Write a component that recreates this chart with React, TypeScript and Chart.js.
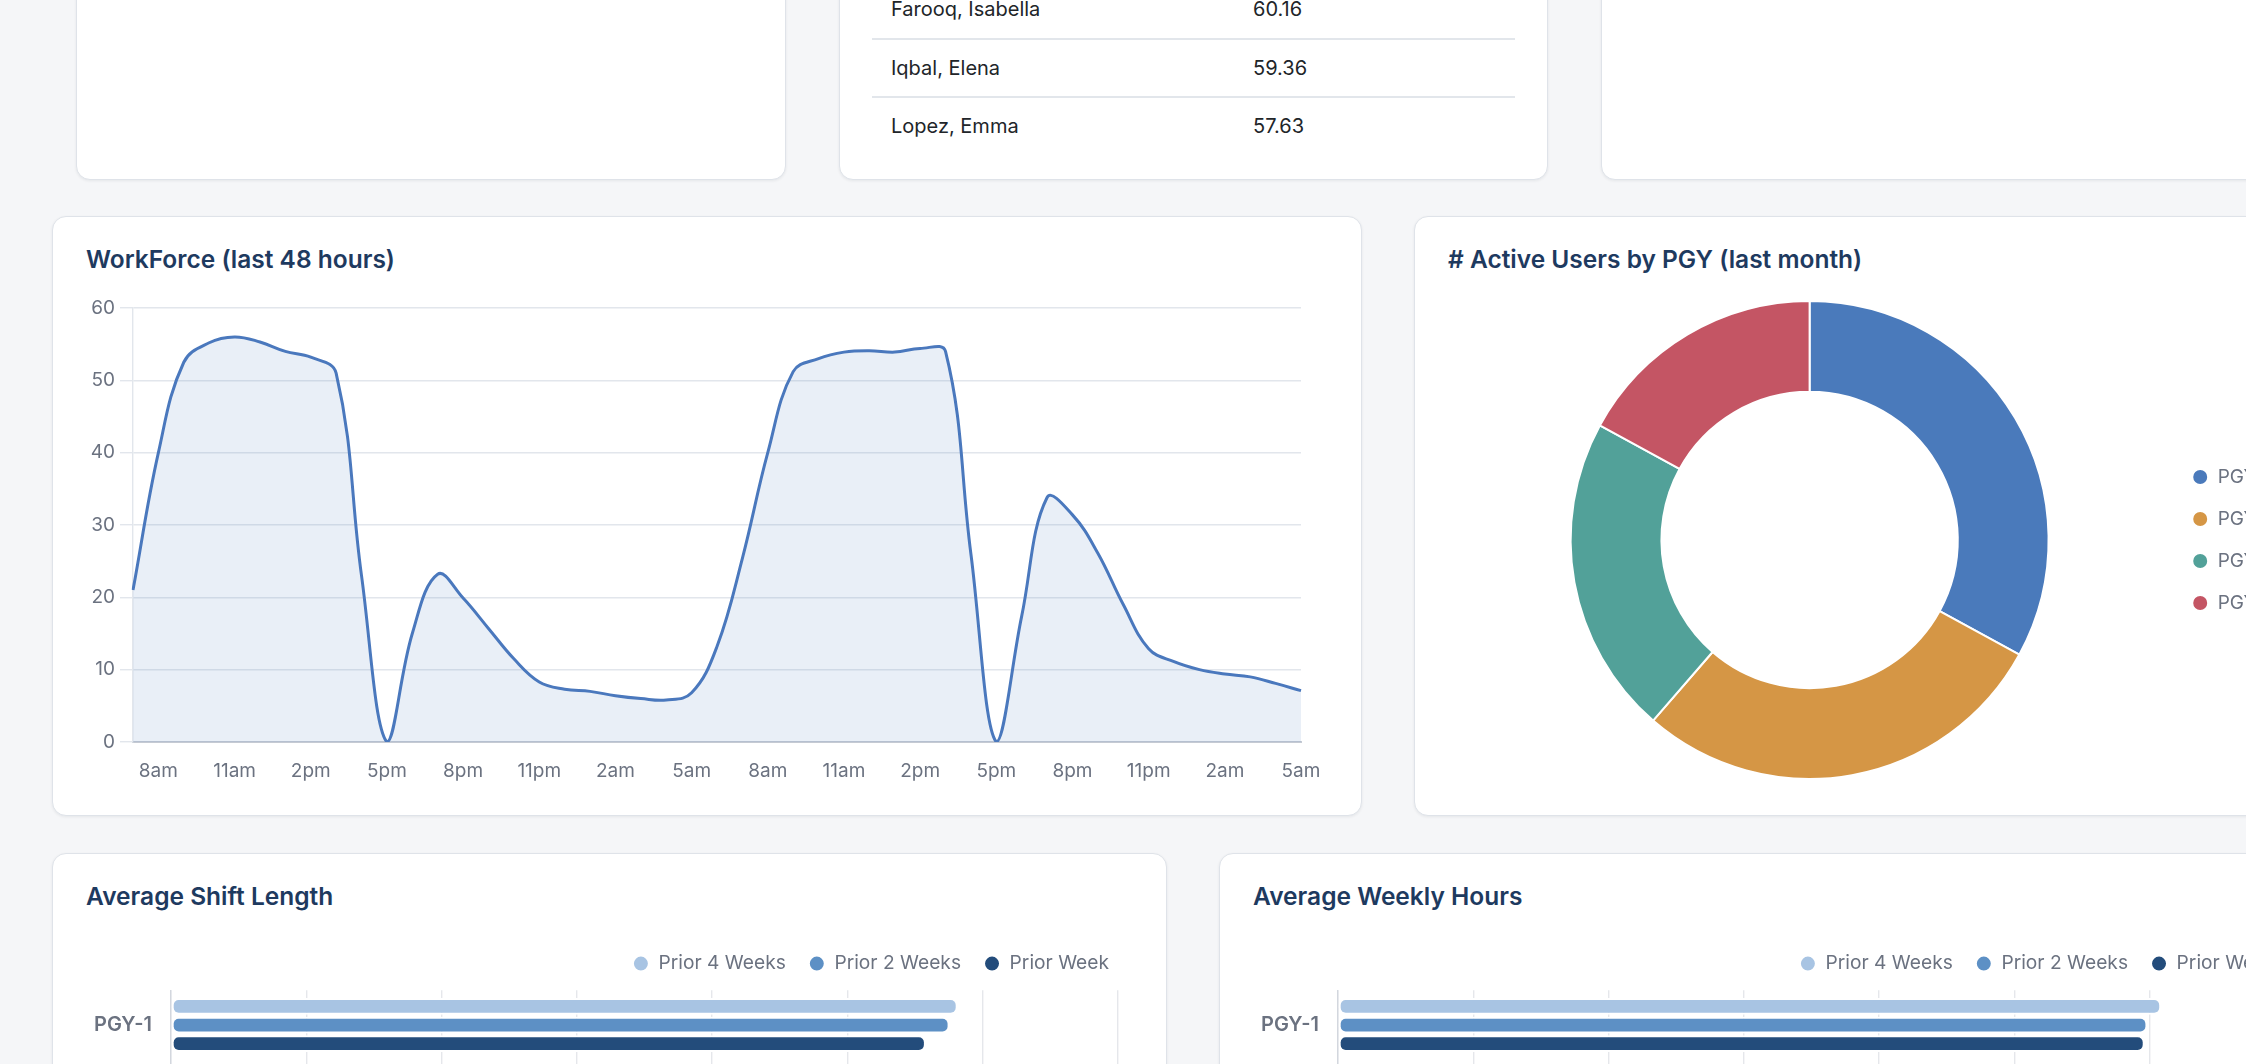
import React, { useEffect, useRef } from 'react';
import { Chart, registerables } from 'chart.js';

Chart.register(...registerables);
Chart.defaults.font.family = 'Inter, "Noto Sans", sans-serif';
Chart.defaults.color = '#6b7280';

// Hourly head-count over the last 48 hours (7am day 1 through 5am day 3)
const HOURS = [
  '7am', '8am', '9am', '10am', '11am', '12pm', '1pm', '2pm', '3pm', '4pm', '5pm', '6pm',
  '7pm', '8pm', '9pm', '10pm', '11pm', '12am', '1am', '2am', '3am', '4am', '5am', '6am',
  '7am', '8am', '9am', '10am', '11am', '12pm', '1pm', '2pm', '3pm', '4pm', '5pm', '6pm',
  '7pm', '8pm', '9pm', '10pm', '11pm', '12am', '1am', '2am', '3am', '4am', '5am',
];
const WORKFORCE = [
  21, 40, 52.5, 55.2, 56, 55.3, 54, 53.2, 51, 23, 0, 15,
  23.2, 19.9, 15.7, 11.5, 8.3, 7.3, 7, 6.4, 6, 5.8, 6.8, 13.2,
  25.4, 40, 51.2, 53, 53.9, 54.1, 53.9, 54.4, 54, 26, 0, 17.4,
  33.8, 31.4, 26.1, 19, 12.9, 11.1, 10, 9.4, 9, 8.1, 7.1,
];

// Active users per PGY (last month)
const PGY_LABELS = ['PGY-1', 'PGY-2', 'PGY-3', 'PGY-4'];
const ACTIVE_USERS = [29, 25, 19, 15];
const PGY_COLORS = ['#4a7abb', '#d59645', '#52a199', '#c45564'];

// Comparison periods for the horizontal bar charts
const PERIODS = ['Prior 4 Weeks', 'Prior 2 Weeks', 'Prior Week'];
const PERIOD_COLORS = ['#a8c4e3', '#5d90c5', '#234c7b'];
const SHIFT_PRIOR_4_WEEKS = [11.63];
const SHIFT_PRIOR_2_WEEKS = [11.51];
const SHIFT_PRIOR_WEEK = [11.16];
const WEEKLY_PRIOR_4_WEEKS = [60.85];
const WEEKLY_PRIOR_2_WEEKS = [59.83];
const WEEKLY_PRIOR_WEEK = [59.63];

// Highest weekly hours table
const TOP_NAMES = ['Farooq, Isabella', 'Iqbal, Elena', 'Lopez, Emma'];
const TOP_VALUES = ['60.16', '59.36', '57.63'];

const TICK_FONT = { size: 19 };
const TITLE_COLOR = '#1e3a5f';

// Adds extra space between a legend and the plot area
const legendGap = (extra: number) => ({
  id: 'legendGap',
  afterInit(chart: any) {
    const legend = chart.legend;
    if (!legend || legend.__gapPatched) return;
    const fit = legend.fit;
    legend.fit = function () {
      fit.call(this);
      this.height += extra;
    };
    legend.__gapPatched = true;
  },
});

function workforceConfig(): any {
  return {
    type: 'line',
    data: {
      labels: HOURS,
      datasets: [
        {
          data: WORKFORCE,
          borderColor: '#4a78bd',
          backgroundColor: 'rgba(74,120,189,0.12)',
          fill: 'origin',
          tension: 0.4,
          pointRadius: 0,
          borderWidth: 3,
        },
      ],
    },
    options: {
      responsive: false,
      animation: false,
      layout: { padding: { top: 18, right: 27, left: 0, bottom: 0 } },
      plugins: { legend: { display: false }, tooltip: { enabled: false } },
      scales: {
        x: {
          grid: { display: false, drawTicks: false },
          border: { color: '#c5cad3', width: 2 },
          ticks: {
            autoSkip: false,
            maxRotation: 0,
            padding: 18,
            font: TICK_FONT,
            color: '#6b7280',
            callback: (_v: any, i: number) => (i % 3 === 1 ? HOURS[i] : ''),
          },
          afterFit: (s: any) => {
            s.height = 58;
            s.paddingLeft = 0;
            s.paddingRight = 0;
          },
        },
        y: {
          min: 0,
          max: 60,
          ticks: { stepSize: 10, padding: 5, font: TICK_FONT, color: '#6b7280' },
          grid: { color: '#e2e6ec', lineWidth: 1.4, tickLength: 13 },
          border: { color: '#e2e6ec', width: 1.4 },
          afterFit: (s: any) => {
            s.width = 47;
          },
        },
      },
    },
  };
}

function activeUsersConfig(): any {
  return {
    type: 'doughnut',
    data: {
      labels: PGY_LABELS,
      datasets: [
        {
          data: ACTIVE_USERS,
          backgroundColor: PGY_COLORS,
          borderColor: '#ffffff',
          borderWidth: 2,
        },
      ],
    },
    options: {
      responsive: false,
      animation: false,
      cutout: '62%',
      plugins: {
        tooltip: { enabled: false },
        legend: {
          position: 'right',
          labels: {
            usePointStyle: true,
            pointStyle: 'circle',
            boxWidth: 16,
            boxHeight: 11.3,
            padding: 23,
            color: '#6b7280',
            font: TICK_FONT,
          },
        },
      },
    },
  };
}

function periodBarConfig(values: number[][], max: number, step: number): any {
  return {
    type: 'bar',
    data: {
      labels: PGY_LABELS,
      datasets: PERIODS.map((label, k) => ({
        label,
        data: values[k],
        backgroundColor: PERIOD_COLORS[k],
        borderColor: '#ffffff',
        borderWidth: 2,
        borderSkipped: false,
        borderRadius: 7,
      })),
    },
    options: {
      indexAxis: 'y',
      responsive: false,
      animation: false,
      plugins: {
        tooltip: { enabled: false },
        legend: {
          position: 'top',
          align: 'end',
          labels: {
            usePointStyle: true,
            pointStyle: 'circle',
            boxWidth: 16,
            boxHeight: 11.3,
            padding: 23,
            color: '#6b7280',
            font: { size: 19.2 },
          },
        },
      },
      scales: {
        x: {
          min: 0,
          max,
          ticks: { stepSize: step, font: TICK_FONT, color: '#6b7280' },
          grid: { color: '#e5e7eb', lineWidth: 1.4 },
          border: { display: false },
          afterFit: (s: any) => {
            s.height = 40;
            s.paddingRight = 14;
          },
        },
        y: {
          grid: { display: false, drawTicks: false },
          border: { color: '#d3d7de', width: 1.4 },
          ticks: { padding: 19, font: { size: 20, weight: '600' }, color: '#6b7280' },
          afterFit: (s: any) => {
            s.width = 85;
          },
        },
      },
    },
    plugins: [legendGap(7)],
  };
}

const shiftConfig = () =>
  periodBarConfig([SHIFT_PRIOR_4_WEEKS, SHIFT_PRIOR_2_WEEKS, SHIFT_PRIOR_WEEK], 14, 2);
const weeklyConfig = () =>
  periodBarConfig([WEEKLY_PRIOR_4_WEEKS, WEEKLY_PRIOR_2_WEEKS, WEEKLY_PRIOR_WEEK], 70, 10);

function ChartBox({ make, left, top, width, height }: any) {
  const ref = useRef<HTMLCanvasElement>(null);
  useEffect(() => {
    const chart = new Chart(ref.current as HTMLCanvasElement, make());
    return () => chart.destroy();
  }, [make]);
  return (
    <canvas
      ref={ref}
      width={width}
      height={height}
      style={{ position: 'absolute', left, top, width, height }}
    />
  );
}

function Card({ left, top, width, height, title, children }: any) {
  return (
    <div
      style={{
        position: 'absolute',
        left,
        top,
        width,
        height,
        boxSizing: 'border-box',
        background: '#ffffff',
        border: '1px solid #dfe3e9',
        borderRadius: 14,
        boxShadow: '0 1px 3px rgba(15,23,42,0.07)',
      }}
    >
      {title && (
        <div
          style={{
            position: 'absolute',
            left: 33,
            top: 28,
            font: '600 24.5px Inter, sans-serif',
            lineHeight: '28px',
            color: TITLE_COLOR,
            whiteSpace: 'nowrap',
          }}
        >
          {title}
        </div>
      )}
      {children}
    </div>
  );
}

function TopTable() {
  return (
    <>
      {TOP_NAMES.map((name, i) => (
        <div
          key={name}
          style={{
            position: 'absolute',
            left: 32,
            top: 280 + i * 58.5,
            width: 643,
            height: 58.5,
            boxSizing: 'border-box',
            borderBottom: i < TOP_NAMES.length - 1 ? '2px solid #e2e6eb' : 'none',
            font: '400 20px Inter, sans-serif',
            color: '#212529',
          }}
        >
          <span style={{ position: 'absolute', left: 19, top: 0, lineHeight: '57px' }}>{name}</span>
          <span style={{ position: 'absolute', left: 381, top: 0, lineHeight: '57px' }}>
            {TOP_VALUES[i]}
          </span>
        </div>
      ))}
    </>
  );
}

export default function App() {
  return (
    <div
      style={{
        position: 'fixed',
        left: 0,
        top: 0,
        width: '100vw',
        height: '100vh',
        overflow: 'hidden',
        background: '#f5f6f8',
        fontFamily: 'Inter, sans-serif',
      }}
    >
      <Card left={76} top={-300} width={710} height={480} />
      <Card left={839} top={-300} width={709} height={480}>
        <TopTable />
      </Card>
      <Card left={1601} top={-300} width={710} height={480} />

      <Card left={52} top={216} width={1310} height={600} title="WorkForce (last 48 hours)">
        <ChartBox make={workforceConfig} left={33} top={73} width={1242} height={510} />
      </Card>
      <Card left={1414} top={216} width={920} height={600} title="# Active Users by PGY (last month)">
        <ChartBox make={activeUsersConfig} left={35} top={83} width={836} height={480} />
      </Card>

      <Card left={52} top={853} width={1115} height={560} title="Average Shift Length">
        <ChartBox make={shiftConfig} left={33} top={77} width={1046} height={378} />
      </Card>
      <Card left={1219} top={853} width={1115} height={560} title="Average Weekly Hours">
        <ChartBox make={weeklyConfig} left={33} top={77} width={1046} height={378} />
      </Card>
    </div>
  );
}
